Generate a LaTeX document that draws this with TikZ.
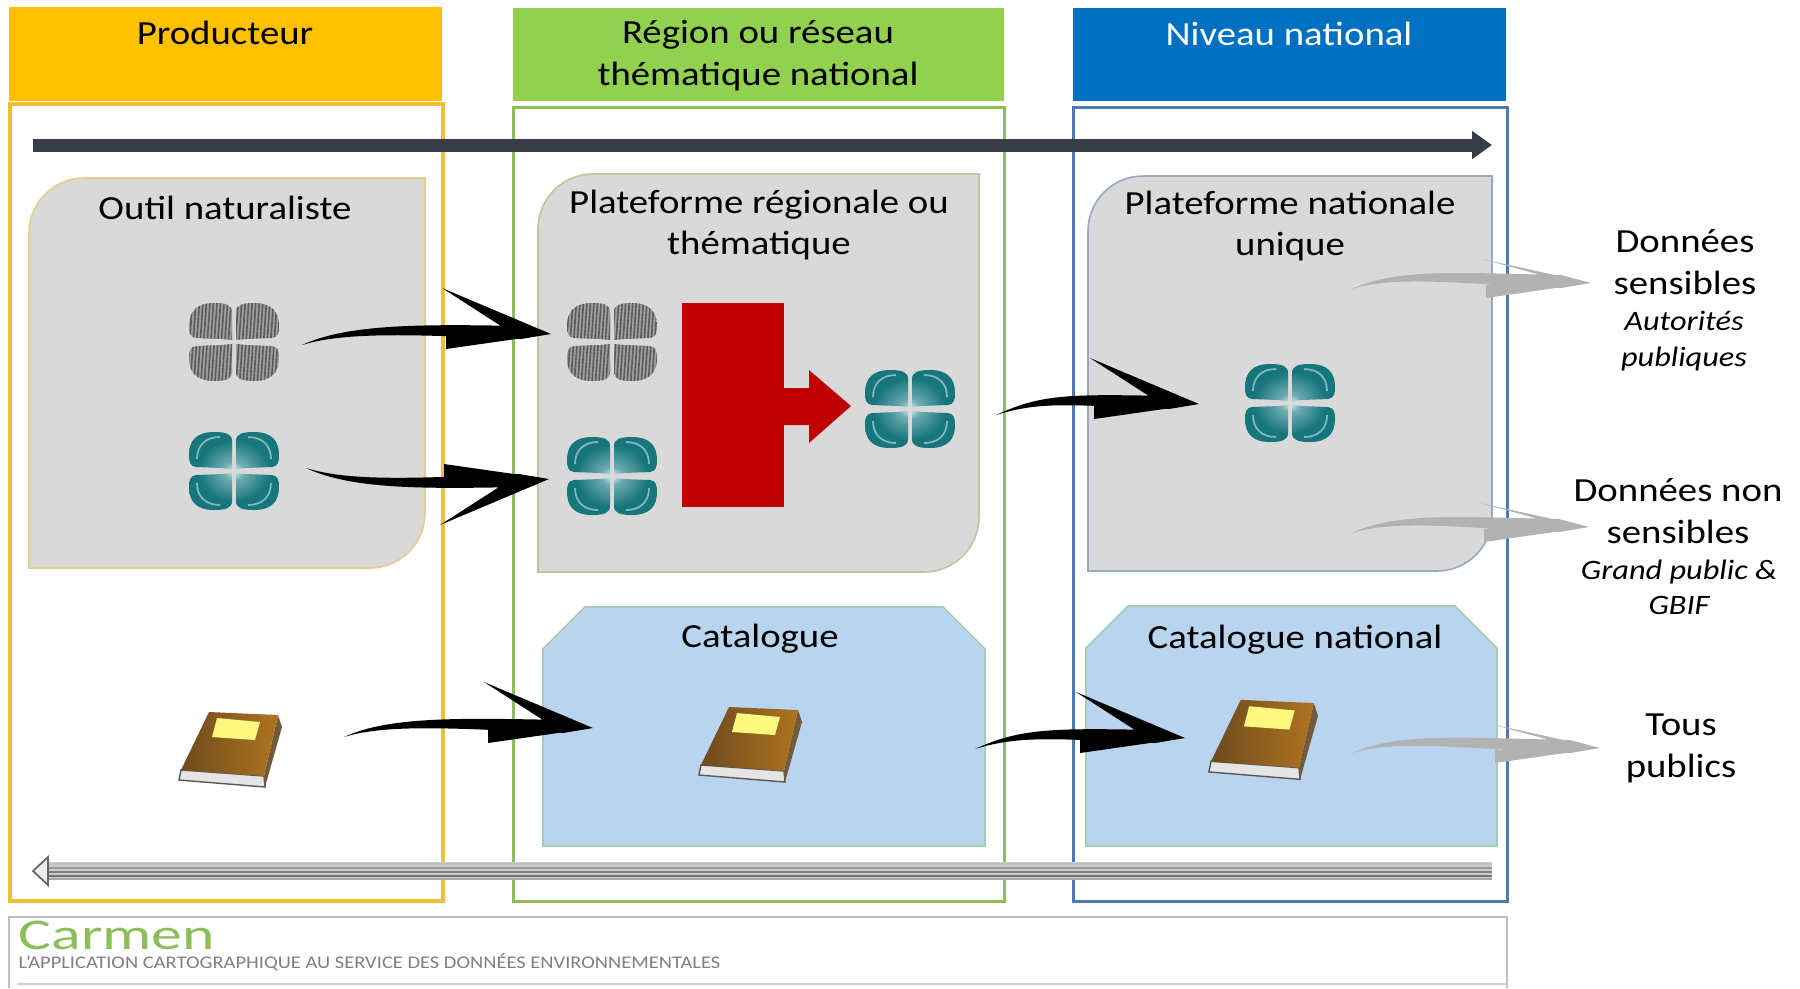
\documentclass[tikz,border=0pt]{standalone}
\usepackage{fontspec}
\setmainfont[FakeStretch=1.15]{Carlito}
\usetikzlibrary{calc}
\usetikzlibrary{patterns.meta}
\usetikzlibrary{arrows.meta}
\definecolor{prodyellow}{HTML}{FFC000}
\definecolor{framegold}{HTML}{EDC132}
\definecolor{regiongreen}{HTML}{92D050}
\definecolor{framegreen}{HTML}{8CBF5A}
\definecolor{natblue}{HTML}{0070C0}
\definecolor{frameblue}{HTML}{4F78B4}
\definecolor{boxgrey}{HTML}{D9D9D9}
\definecolor{cataloguefill}{HTML}{B9D4EE}
\definecolor{darkbar}{HTML}{363D47}
\definecolor{tealdark}{HTML}{17757C}
\definecolor{teallight}{HTML}{D5EEF0}
\definecolor{coverdark}{HTML}{6E4A1E}
\definecolor{coverlight}{HTML}{AE7420}
\pgfdeclareradialshading{cloverteal}{\pgfpointorigin}{color(0bp)=(teallight); color(6bp)=(tealdark!55!teallight); color(20bp)=(tealdark); color(100bp)=(tealdark)}
\newcommand{\lobe}[2]{({2*#1},{2*#2}) -- ({2*#1},{30*#2}) .. controls ({2*#1},{37*#2}) and ({8*#1},{39*#2}) .. ({20*#1},{39*#2}) .. controls ({38*#1},{39*#2}) and ({45*#1},{30*#2}) .. ({45*#1},{16*#2}) .. controls ({45*#1},{9*#2}) and ({44*#1},{5*#2}) .. ({38*#1},{4*#2}) -- ({12*#1},{3*#2}) -- cycle}
\newcommand{\cloverlobes}{\lobe{1}{-1} \lobe{-1}{-1} \lobe{1}{1} \lobe{-1}{1}}
\newcommand{\brush}[5][black]{\fill[#1] (#2) .. controls ($(#2)+(45,{-21*#4})$) and ($(#3)+(-130,{-10*#4})$) .. ($(#3)+(-30,{-8*#4})$) -- (#3) -- ($(#3)+(-30,{5*#4})$) .. controls ($(#3)+(-130,{1*#4})$) and ($(#2)+(45,{-14*#4})$) .. (#2) -- cycle ($(#3)+(-109,{-#5*#4})$) -- (#3) -- ($(#3)+(-50,{-8*#4})$) -- cycle ($(#3)+(-105,{2*#4})$) -- (#3) -- ($(#3)+(-105,{15*#4})$) -- cycle;}
\newcommand{\diagbox}[5]{\draw[line width=.45,draw=#5,fill=boxgrey] (#1,#4) [rounded corners=5.5mm] -- (#1,#2) [sharp corners] -- (#3,#2) [rounded corners=5.5mm] -- (#3,#4) [sharp corners] -- cycle;}
\newcommand{\snipbox}[4]{\draw[line width=.45,draw=framegreen!40!cataloguefill,fill=cataloguefill] (#1,#4) -- (#1,{#2+42}) -- ({#1+42},#2) -- ({#3-42},#2) -- (#3,{#2+42}) -- (#3,#4) -- cycle;}
\begin{document}
\begin{tikzpicture}[x=.1mm,y=-.1mm]
	\tikzstyle{header}=[align=center,font=\fontsize{9.6}{11.9}\selectfont,text=black]
	\tikzstyle{title}=[align=center,font=\fontsize{9.6}{11.9}\selectfont,text=black]
	\tikzstyle{target}=[align=center,font=\fontsize{9.6}{11.9}\selectfont,text=black]
	\tikzstyle{audience}=[align=center,font=\fontsize{8}{10}\itshape\selectfont,text=black]
	\tikzset{tealclover/.pic={
		\shade[shading=cloverteal] \cloverlobes;
		\foreach \sx in {-1,1} \foreach \sy in {-1,1}
			\draw[teallight!55!tealdark,line width=.5] ({37*\sx},{-12*\sy}) .. controls ({37*\sx},{-26*\sy}) and ({28*\sx},{-34*\sy}) .. ({14*\sx},{-34*\sy});
	}}
	\tikzset{greyclover/.pic={
		\fill[gray!75] \cloverlobes;
		\fill[pattern={Lines[angle=86,distance=1pt,line width=.45pt]},pattern color=black!65] \cloverlobes;
	}}
	\tikzset{bookicon/.pic={
		\draw[gray!70!black,fill=gray!20,line width=.4] (-50,22) -- (33,28) -- (34,39) -- (-52,32) -- cycle;
		\fill[coverdark!70!gray] (47,-33) -- (51,-21) -- (34,39) -- (33,28) -- cycle;
		\shade[left color=coverdark,right color=coverlight] (-22,-36) -- (47,-33) -- (33,28) -- (-50,22) -- cycle;
		\fill[yellow!50!white] (-14,-30) -- (29,-26) -- (24,-8) -- (-19,-11) -- cycle;
	}}
	\useasboundingbox (0,0) rectangle (1800,988);
	\fill[white] (0,0) rectangle (1800,988);
	\fill[prodyellow] (9,7) rectangle (442,101);
	\fill[regiongreen] (513,8) rectangle (1004,101);
	\fill[natblue] (1073,8) rectangle (1506,101);
	\draw[framegold,line width=.9] (10,104) rectangle (443,901);
	\draw[framegreen,line width=.85] (513,107) rectangle (1004,901);
	\draw[frameblue,line width=.85] (1073,107) rectangle (1507,901);
	\diagbox{29}{178}{425}{568}{framegold!45!boxgrey}
	\diagbox{538}{174}{979}{572}{framegreen!50!boxgrey}
	\diagbox{1088}{176}{1492}{571}{frameblue!50!boxgrey}
	\snipbox{543}{607}{985}{846}
	\snipbox{1086}{606}{1497}{846}
	\node[header] (producteur) at (225,33) {Producteur};
	\node[header] (region) at (758,56) {Région ou réseau\\thématique national};
	\node[header,text=white] (national) at (1289,34) {Niveau national};
	\node[title] (outil) at (225,208) {Outil naturaliste};
	\node[title] (plateforme) at (759,225) {Plateforme régionale ou\\thématique};
	\node[title] (unique) at (1290,226) {Plateforme nationale\\unique};
	\node[title] (catalogue) at (760,639) {Catalogue};
	\node[title] (catnational) at (1295,640) {Catalogue national};
	\node[target] (sensibles) at (1685,262) {Données\\sensibles};
	\node[audience] (autorites) at (1684,341) {Autorités\\publiques};
	\node[target] (nonsensibles) at (1678,511) {Données non\\sensibles};
	\node[audience] (grandpublic) at (1679,587) {Grand public \&\\GBIF};
	\node[target] (touspublics) at (1681,748) {Tous\\publics};
	\coordinate (barL) at (33,145);
	\coordinate (barR) at (1492,145);
	\draw[darkbar,line width=1.3mm,-{Triangle[length=2mm,width=2.7mm]}] (barL) -- (barR);
	\fill[red!75!black] (682,303) rectangle (784,507);
	\fill[red!75!black] (784,388) -- (809,388) -- (809,370) -- (851,406) -- (809,443) -- (809,425) -- (784,425) -- cycle;
	\pic at (234,342) {greyclover};
	\pic at (234,471) {tealclover};
	\pic at (612,342) {greyclover};
	\pic at (612,476) {tealclover};
	\pic at (910,409) {tealclover};
	\pic at (1290,403) {tealclover};
	\pic at (231,748) {bookicon};
	\pic at (751,743) {bookicon};
	\pic[scale=1.06] at (1264,738) {bookicon};
	\coordinate (aS) at (302,345);
	\coordinate (aT) at (551,334);
	\coordinate (bS) at (306,468);
	\coordinate (bT) at (549,479);
	\coordinate (cS) at (344,737);
	\coordinate (cT) at (593,728);
	\coordinate (dS) at (996,415);
	\coordinate (dT) at (1199,404);
	\coordinate (eS) at (975,749);
	\coordinate (eT) at (1185,738);
	\coordinate (fS) at (1352,289);
	\coordinate (fT) at (1591,283);
	\coordinate (gS) at (1352,533);
	\coordinate (gT) at (1589,527);
	\coordinate (hS) at (1352,753);
	\coordinate (hT) at (1600,748);
	\brush{aS}{aT}{1}{46}
	\brush{bS}{bT}{-1}{46}
	\brush{cS}{cT}{1}{46}
	\brush{dS}{dT}{1}{46}
	\brush{eS}{eT}{1}{46}
	\brush[gray!60]{fS}{fT}{1}{24}
	\brush[gray!60]{gS}{gT}{1}{24}
	\brush[gray!60]{hS}{hT}{1}{24}
	\coordinate (backR) at (1492,871);
	\coordinate (backN) at (48,871);
	\coordinate (backL) at (33,871);
	\draw[gray!40,line width=1.8mm] (backR) -- (backN);
	\foreach \off/\tone in {-7/25,-3/40,1/50,5/55,8/35}
		\draw[black!\tone,line width=.35] ($(backN)+(0,\off)$) -- ($(backR)+(0,\off)$);
	\draw[gray!80!black,fill=gray!15,line width=.5] (48,857) -- (backL) -- (48,885) -- cycle;
	\draw[gray!50,line width=.5] (9,988) -- (9,917) -- (1507,917) -- (1507,988);
	\draw[gray!35,line width=.5] (17,984) -- (1507,984);
	\node[anchor=west,inner sep=0,text=framegreen,font=\fontsize{12.5}{14}\selectfont] (carmen) at (18,935) {\scalebox{1.22}[1]{Carmen}};
	\node[anchor=west,inner sep=0,text=gray,font=\fontsize{5.07}{6}\selectfont] (slogan) at (18,962) {L'APPLICATION CARTOGRAPHIQUE AU SERVICE DES DONNÉES ENVIRONNEMENTALES};
\end{tikzpicture}
\end{document}
